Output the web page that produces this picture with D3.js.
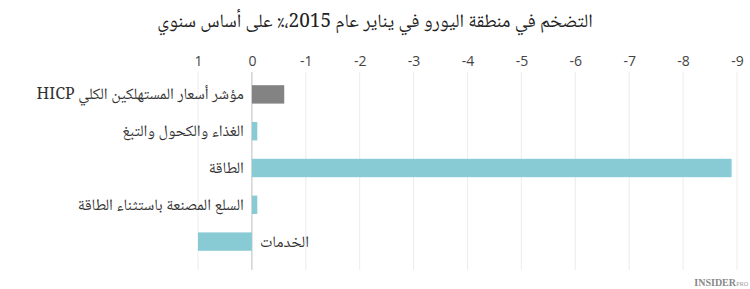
<!DOCTYPE html>
<html><head><meta charset="utf-8">
<script src="https://cdn.jsdelivr.net/npm/d3@7"></script>
<style>
body{margin:0;background:#fff;}
svg{display:block;}
</style></head>
<body><svg id="c" width="750" height="289"></svg>
<script>
const categories = ["مؤشر أسعار المستهلكين الكلي HICP","الغذاء والكحول والتبغ","الطاقة","السلع المصنعة باستثناء الطاقة","الخدمات"];
const values = [-0.6, -0.1, -8.9, -0.1, 1.0];
const tickValues = [1,0,-1,-2,-3,-4,-5,-6,-7,-8,-9];
const title = "التضخم في منطقة اليورو في يناير عام 2015،٪ على أساس سنوي";

const svg = d3.select("#c");
const arFont = "'Noto Naskh Arabic','Noto Sans Arabic','DejaVu Sans',serif";
const x = d3.scaleLinear().domain([1,-9]).range([198,737]);
const y = d3.scaleBand().domain(categories).range([76,260]).paddingInner(0.5).paddingOuter(0.25);

svg.append("text").attr("x",375).attr("y",27).attr("text-anchor","middle")
  .attr("direction","rtl").style("font-family",arFont).style("font-size","19px").attr("fill","#222")
  .text(title);

// gridlines
svg.append("g").selectAll("line").data(tickValues).join("line")
  .attr("x1",d=>x(d)).attr("x2",d=>x(d)).attr("y1",72).attr("y2",270)
  .attr("stroke",d=>d===0?"#bdbdbd":"#ececec").attr("stroke-width",1);

const axis = svg.append("g").attr("transform","translate(0,66)")
  .call(d3.axisTop(x).tickValues(tickValues).tickSize(0).tickPadding(0).tickFormat(d=>d<0?"-"+Math.abs(d):d));
axis.select(".domain").remove();
axis.selectAll("text").style("font-family","'Open Sans','DejaVu Sans',sans-serif").style("font-size","14px").attr("fill","#444");

svg.append("g").selectAll("rect").data(values).join("rect")
  .attr("x",d=>Math.min(x(0),x(d))).attr("width",d=>Math.abs(x(d)-x(0)))
  .attr("y",(d,i)=>y(categories[i])).attr("height",y.bandwidth())
  .attr("fill",(d,i)=>i===0?"#838383":"#89cbd4");

svg.append("g").selectAll("text").data(values).join("text")
  .attr("direction","rtl")
  .attr("x",d=>d<0?x(0)-8:x(0)+8)
  .attr("text-anchor",d=>d<0?"start":"end")
  .attr("y",(d,i)=>y(categories[i])+y.bandwidth()/2+5)
  .style("font-family",arFont).style("font-size","16px").attr("fill","#333")
  .text((d,i)=>categories[i]);

svg.append("text").attr("x",736).attr("y",286).attr("text-anchor","end")
  .style("font-family","'Liberation Serif',serif").style("font-size","10px").style("font-weight","bold").attr("fill","#888")
  .text("INSIDER");
svg.append("text").attr("x",748).attr("y",286).attr("text-anchor","end")
  .style("font-family","'Liberation Serif',serif").style("font-size","6px").attr("fill","#999")
  .text("PRO");
</script></body></html>
